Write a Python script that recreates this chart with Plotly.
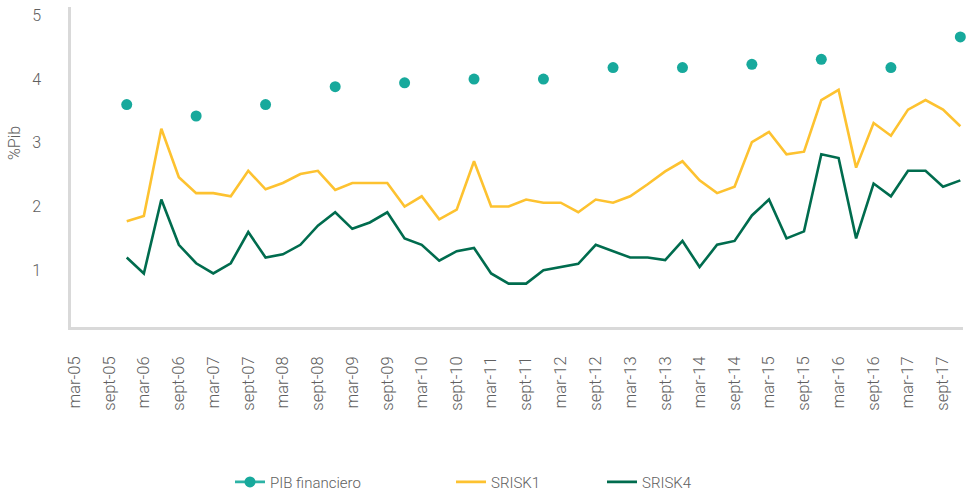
import plotly.graph_objects as go
import pandas as pd

# ---------------- data ----------------
srisk_dates = pd.date_range("2005-12-01", "2017-12-01", freq="3MS").strftime("%Y-%m-%d").tolist()

srisk1 = [1.77, 1.85, 3.22, 2.46, 2.21, 2.21, 2.16, 2.56, 2.27, 2.37, 2.51, 2.56,
          2.26, 2.37, 2.37, 2.37, 2.00, 2.16, 1.80, 1.95, 2.71, 2.00, 2.00, 2.11,
          2.06, 2.06, 1.91, 2.11, 2.06, 2.16, 2.35, 2.55, 2.71, 2.41, 2.21, 2.31,
          3.01, 3.17, 2.82, 2.86, 3.67, 3.83, 2.61, 3.31, 3.11, 3.52, 3.67, 3.52, 3.26]

srisk4 = [1.20, 0.95, 2.11, 1.40, 1.11, 0.95, 1.11, 1.60, 1.20, 1.25, 1.40, 1.70,
          1.91, 1.65, 1.75, 1.91, 1.50, 1.40, 1.15, 1.30, 1.35, 0.95, 0.79, 0.79,
          1.00, 1.05, 1.10, 1.40, 1.30, 1.20, 1.20, 1.16, 1.46, 1.05, 1.40, 1.46,
          1.86, 2.11, 1.50, 1.61, 2.82, 2.76, 1.50, 2.36, 2.16, 2.56, 2.56, 2.31, 2.41]

pib_dates = ["2005-12-01", "2006-12-01", "2007-12-01", "2008-12-01", "2009-12-01",
             "2010-12-01", "2011-12-01", "2012-12-01", "2013-12-01", "2014-12-01",
             "2015-12-01", "2016-12-01", "2017-12-01"]
pib_financiero = [3.60, 3.42, 3.60, 3.88, 3.94, 4.00, 4.00, 4.18, 4.18, 4.23, 4.31, 4.18, 4.66]

tick_dates = ["2005-03-01", "2005-09-01", "2006-03-01", "2006-09-01", "2007-03-01",
              "2007-09-01", "2008-03-01", "2008-09-01", "2009-03-01", "2009-09-01",
              "2010-03-01", "2010-09-01", "2011-03-01", "2011-09-01", "2012-03-01",
              "2012-09-01", "2013-03-01", "2013-09-01", "2014-03-01", "2014-09-01",
              "2015-03-01", "2015-09-01", "2016-03-01", "2016-09-01", "2017-03-01",
              "2017-09-01"]
tick_labels = ["mar-05", "sept-05", "mar-06", "sept-06", "mar-07", "sept-07",
               "mar-08", "sept-08", "mar-09", "sept-09", "mar-10", "sept-10",
               "mar-11", "sept-11", "mar-12", "sept-12", "mar-13", "sept-13",
               "mar-14", "sept-14", "mar-15", "sept-15", "mar-16", "sept-16",
               "mar-17", "sept-17"]

y_title = "%Pib"

# ---------------- style ----------------
TEAL = "#17A99C"
TEAL_LIGHT = "#2DB3A6"
YELLOW = "#FDC230"
GREEN = "#006C4E"
TXT = "#606060"
AXIS = "#D9D9D9"
FONT = "Roboto"

fig = go.Figure()

fig.add_trace(go.Scatter(
    x=srisk_dates, y=srisk1, mode="lines", name="SRISK1",
    line=dict(color=YELLOW, width=2.6), legend="legend2"))
fig.add_trace(go.Scatter(
    x=srisk_dates, y=srisk4, mode="lines", name="SRISK4",
    line=dict(color=GREEN, width=2.6), legend="legend3"))
fig.add_trace(go.Scatter(
    x=pib_dates, y=pib_financiero, mode="markers", name="PIB financiero",
    marker=dict(color=TEAL, size=11), cliponaxis=False, showlegend=False))
# legend entry (line + marker, as in the original legend)
fig.add_trace(go.Scatter(
    x=[None], y=[None], mode="lines+markers", name="PIB financiero",
    line=dict(color=TEAL_LIGHT, width=2.6), marker=dict(color=TEAL, size=11),
    legend="legend"))

legend_common = dict(orientation="h", yref="container", y=0.018, yanchor="middle",
                     xanchor="left",
                     font=dict(family=FONT, size=15, color=TXT, weight=300),
                     bgcolor="rgba(0,0,0,0)")

fig.update_layout(
    width=968, height=491,
    margin=dict(l=71, r=5, t=7, b=164, autoexpand=False),
    paper_bgcolor="white", plot_bgcolor="white",
    font=dict(family=FONT, color=TXT, size=14, weight=300),
    showlegend=True,
    legend=dict(x=(230 - 71) / 892, **legend_common),
    legend2=dict(x=(451 - 71) / 892, **legend_common),
    legend3=dict(x=(602 - 71) / 892, **legend_common),
    xaxis=dict(
        type="date",
        range=["2005-02-11", "2017-12-15"],
        tickmode="array", tickvals=tick_dates, ticktext=tick_labels,
        tickangle=-90, ticks="", ticklabelstandoff=20,
        tickfont=dict(family=FONT, size=16.5, color=TXT, weight=300),
        showgrid=False, zeroline=False, automargin=False,
        showline=True, linecolor=AXIS, linewidth=2.5,
    ),
    yaxis=dict(
        range=[0.11, 5.13],
        tickvals=[1, 2, 3, 4, 5],
        ticks="", ticklabelstandoff=24,
        tickfont=dict(family=FONT, size=16, color=TXT, weight=300),
        showgrid=False, zeroline=False, automargin=False,
        showline=True, linecolor=AXIS, linewidth=2.5,
    ),
    annotations=[dict(
        text=y_title, textangle=-90, showarrow=False,
        xref="paper", x=0, xanchor="center", xshift=-57,
        yref="paper", y=(327 - 143) / 320, yanchor="middle",
        font=dict(family=FONT, size=16, color=TXT, weight=300),
    )],
)

fig.write_html("out.html", config={"displayModeBar": False},
               post_script="document.body.style.margin='0';document.body.style.overflow='hidden';")
